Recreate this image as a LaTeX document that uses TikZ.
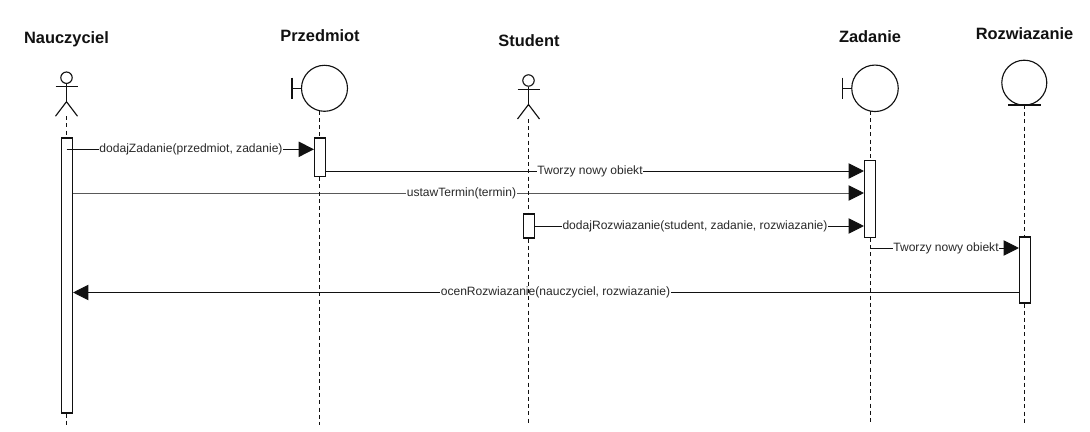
\documentclass[tikz,border=0pt]{standalone}
\usepackage{fontspec}
\setmainfont{Liberation Sans}
\usetikzlibrary{arrows.meta}
\definecolor{ink}{HTML}{111111}
\tikzset{
  x=0.75pt,y=-0.75pt,
  shape line/.style={draw=ink,line width=0.85pt},
  headcirc/.style={shape line,circle,inner sep=0pt,minimum size=#1*0.75pt},
  title/.style={font=\fontsize{12.3pt}{14pt}\selectfont\bfseries,text=ink,inner sep=0pt},
  lifeline/.style={draw=ink,line width=0.95pt,dash pattern=on 3pt off 2.4pt},
  activation/.style={draw=ink,line width=0.8pt,fill=white,minimum width=8.25pt,inner sep=0pt},
  msg/.style={draw=ink,line width=0.75pt,-{Triangle[length=11.5pt,width=11.5pt]}},
  msgthin/.style={draw=black!65,line width=0.7pt,-{Triangle[length=11.5pt,width=11.5pt,color=ink,fill=ink]}},
  msglabel/.style={font=\fontsize{9.05pt}{11pt}\selectfont,text=ink!90,fill=white,inner sep=0.6pt},
}
\newcommand{\actorfig}[3]{% name, x, head y
  \node[headcirc=11.4] (#1head) at (#2,#3) {};
  \coordinate (#1hip) at (#2,#3+24);
  \draw[shape line] (#1head.south) -- (#1hip);
  \draw[shape line] (#2-11,#3+8.6) -- (#2+11,#3+8.6);
  \draw[shape line] (#2-11,#3+38.5) -- (#1hip) -- (#2+11,#3+38.5);
  \coordinate (#1foot) at (#2,#3+38.5);
}
\begin{document}
\begin{tikzpicture}
\useasboundingbox (0,0) rectangle (1090,432);
% titles
\node[title] (tN) at (66.5,39.5) {Nauczyciel};
\node[title] (tP) at (320,35.5) {Przedmiot};
\node[title] (tS) at (529,41) {Student};
\node[title] (tZ) at (870,36.5) {Zadanie};
\node[title] (tR) at (1024.5,34) {Rozwiazanie};
% lifeline heads
\actorfig{n}{66.5}{77.7}
\actorfig{s}{528.5}{80.5}
\node[headcirc=46] (pc) at (324.5,88.3) {};
\draw[shape line] (292,77.5) -- (292,99.3);
\draw[shape line] (292,88.3) -- (pc.west);
\node[headcirc=46.5] (zc) at (875,88.3) {};
\draw[shape line] (842.7,77.5) -- (842.7,99.3);
\draw[shape line] (842.7,88.3) -- (zc.west);
\node[headcirc=45] (rc) at (1024.3,82.7) {};
\draw[shape line] (1008.3,105) -- (1041,105);
% lifeline ends
\coordinate (nend) at (66.5,425);
\coordinate (pend) at (319.5,425);
\coordinate (send) at (528.5,425);
\coordinate (zend) at (870.5,425);
\coordinate (rend) at (1024.5,425);
\coordinate (ptop) at (319.5,110.8);
\coordinate (ztop) at (870.5,110.8);
\coordinate (rtop) at (1024.5,105);
% activations
\node[activation,minimum height=206.25pt] (an) at (67,275.5) {};
\node[activation,minimum height=29pt] (ap) at (320,157.3) {};
\node[activation,minimum height=18pt] (as) at (529,226) {};
\node[activation,minimum height=58pt] (az) at (870,198.7) {};
\node[activation,minimum height=49.5pt] (ar) at (1025,270) {};
% message ends
\coordinate (m1s) at (66.5,149.3);
\coordinate (m1e) at (ap.west |- m1s);
\coordinate (m2s) at (ap.east |- 0,171);
\coordinate (m2e) at (az.west |- m2s);
\coordinate (m3s) at (an.east |- 0,193);
\coordinate (m3e) at (az.west |- m3s);
\coordinate (m4s) at (as.east |- 0,226);
\coordinate (m4e) at (az.west |- m4s);
\coordinate (m5s) at (870.5,248);
\coordinate (m5e) at (ar.west |- m5s);
\coordinate (m6s) at (ar.west |- 0,292.5);
\coordinate (m6e) at (an.east |- m6s);
% messages
\draw[msg] (m1s) -- (m1e);
\draw[msg] (m2s) -- (m2e);
\draw[msgthin] (m3s) -- (m3e);
\draw[msg] (m4s) -- (m4e);
\draw[msg] (m5s) -- (m5e);
\draw[msg] (m6s) -- (m6e);
% labels
\node[msglabel] (l1) at (191,149.3) {dodajZadanie(przedmiot, zadanie)};
\node[msglabel] (l2) at (590,171) {Tworzy nowy obiekt};
\node[msglabel] (l3) at (461.5,193) {ustawTermin(termin)};
\node[msglabel] (l4) at (695,226) {dodajRozwiazanie(student, zadanie, rozwiazanie)};
\node[msglabel] (l5) at (946,248) {Tworzy nowy obiekt};
\node[msglabel] (l6) at (555.5,292.5) {ocenRozwiazanie(nauczyciel, rozwiazanie)};
% lifelines
\draw[lifeline] (nfoot) -- (nfoot |- an.north);
\draw[lifeline] (nend |- an.south) -- (nend);
\draw[lifeline] (ptop) -- (ptop |- ap.north);
\draw[lifeline] (pend |- ap.south) -- (pend);
\draw[lifeline] (sfoot) -- (sfoot |- as.north);
\draw[lifeline] (send |- as.south) -- (send);
\draw[lifeline] (ztop) -- (ztop |- az.north);
\draw[lifeline] (zend |- az.south) -- (zend);
\draw[lifeline] (rtop) -- (rtop |- ar.north);
\draw[lifeline] (rend |- ar.south) -- (rend);
\end{tikzpicture}
\end{document}
